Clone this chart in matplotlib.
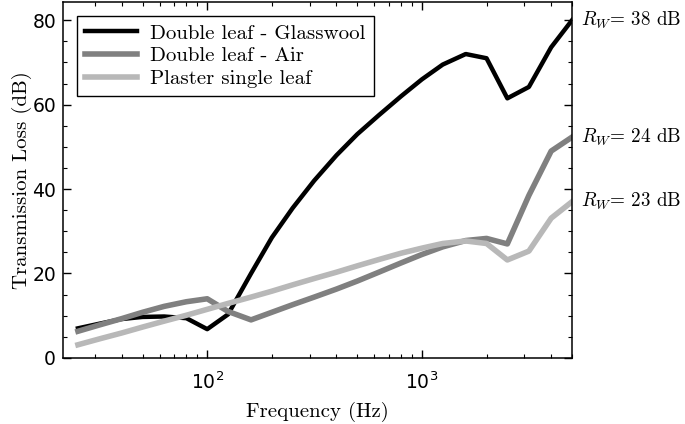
import numpy as np
import matplotlib
matplotlib.use("Agg")
import matplotlib.pyplot as plt
from matplotlib.ticker import MultipleLocator

freq = [25, 31.5, 40, 50, 63, 80, 100, 125, 160, 200, 250, 315, 400, 500,
        630, 800, 1000, 1250, 1600, 2000, 2500, 3150, 4000, 5000]

glasswool = [7.0, 8.1, 9.2, 9.7, 9.8, 9.4, 6.8, 10.3, 20.0, 28.5, 35.5, 42.0,
             48.0, 53.0, 57.5, 62.0, 66.0, 69.5, 72.0, 71.0, 61.5, 64.2, 73.6, 80.0]
air = [6.3, 7.8, 9.3, 10.8, 12.2, 13.3, 14.0, 11.0, 9.0, 10.8, 12.6, 14.4,
       16.3, 18.2, 20.3, 22.5, 24.5, 26.3, 27.8, 28.3, 27.0, 38.5, 49.0, 52.3]
plaster = [3.1, 4.5, 5.9, 7.3, 8.7, 10.1, 11.5, 12.9, 14.4, 15.8, 17.3, 18.8,
           20.3, 21.8, 23.3, 24.8, 26.0, 27.1, 27.7, 27.1, 23.2, 25.3, 33.1, 37.0]

labels = ["Double leaf - Glasswool", "Double leaf - Air", "Plaster single leaf"]
rw = [38, 24, 23]

serif = "cmr10"

fig = plt.figure(figsize=(6.85, 4.24), dpi=100)
ax = fig.add_axes([0.092, 0.156, 0.743, 0.839])

ax.semilogx(freq, glasswool, color="black", lw=3.2, label=labels[0])
ax.semilogx(freq, air, color="#808080", lw=4, label=labels[1])
ax.semilogx(freq, plaster, color="#b8b8b8", lw=4, label=labels[2])

ax.set_xlim(21.3, 5000)
ax.set_ylim(0, 84.3)
ax.yaxis.set_major_locator(MultipleLocator(20))
ax.yaxis.set_minor_locator(MultipleLocator(5))

ax.tick_params(which="both", direction="in", top=True, right=True)
ax.tick_params(which="major", length=6, width=1, labelsize=13.5)
ax.tick_params(axis="x", which="major", pad=10)
ax.tick_params(axis="y", which="major", pad=5)
ax.tick_params(which="minor", length=3, width=0.8)
for s in ax.spines.values():
    s.set_linewidth(1.1)

ax.set_xlabel("Frequency (Hz)", family=serif, fontsize=15, labelpad=6)
ax.set_ylabel("Transmission Loss (dB)", family=serif, fontsize=15, labelpad=0.5)

# R_W labels next to the last point of each curve
for series, r in zip([glasswool, air, plaster], rw):
    ax.annotate(r"$R_W$= %d dB" % r, xy=(freq[-1], series[-1]),
                xytext=(6.5, 0), textcoords="offset points", va="center",
                ha="left", family=serif, math_fontfamily="cm", fontsize=13.8,
                annotation_clip=False)

leg = ax.legend(loc="upper left", prop={"family": serif, "size": 15},
                fancybox=False, edgecolor="black", framealpha=1,
                handlelength=2.5, handletextpad=0.63, borderaxespad=0.65,
                labelspacing=0.2)
leg.get_frame().set_linewidth(1.0)

fig.savefig("out.png", dpi=100)
